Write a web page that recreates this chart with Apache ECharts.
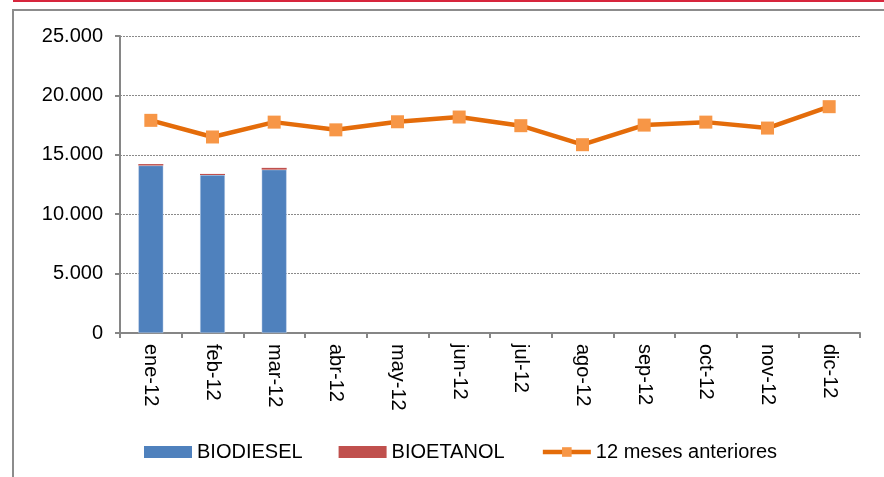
<!DOCTYPE html>
<html>
<head>
<meta charset="utf-8">
<script src="https://cdn.jsdelivr.net/npm/echarts@6/dist/echarts.min.js"></script>
<style>
  html, body { margin: 0; padding: 0; background: #fff; }
  #chart { width: 884px; height: 477px; }
</style>
</head>
<body>
<div id="chart"></div>
<script>
// Monthly sales 2012 (m3)
const months = ['ene-12','feb-12','mar-12','abr-12','may-12','jun-12','jul-12','ago-12','sep-12','oct-12','nov-12','dic-12'];
const biodiesel = [14100, 13300, 13750, null, null, null, null, null, null, null, null, null];
const bioetanol = [120, 90, 150, null, null, null, null, null, null, null, null, null];
const previous12 = [17900, 16500, 17750, 17100, 17780, 18180, 17450, 15850, 17500, 17750, 17250, 19050];
const yTicks = [0, 5000, 10000, 15000, 20000, 25000];

const fmt = v => v === 0 ? '0' : v.toLocaleString('de-DE');
const font = '"Liberation Sans", Arial, sans-serif';

const chart = echarts.init(document.getElementById('chart'), null, { renderer: 'canvas' });
chart.setOption({
  animation: false,
  backgroundColor: '#fff',
  textStyle: { fontFamily: font },
  graphic: [
    { type: 'line', shape: { x1: 13, y1: 1, x2: 884, y2: 1 }, style: { stroke: '#D7263D', lineWidth: 2 } },
    { type: 'polyline', shape: { points: [[13, 477], [13, 10], [884, 10]] }, style: { stroke: '#8C8C8C', lineWidth: 2, fill: null } }
  ],
  grid: { left: 120, right: 24, top: 36, bottom: 144, containLabel: false },
  legend: {
    top: 442, left: 144, padding: 0,
    itemWidth: 48, itemHeight: 12, itemGap: 36,
    textStyle: { fontSize: 20, color: '#000', fontFamily: font, padding: [0, 0, 0, 0] },
    data: [
      { name: 'BIODIESEL', icon: 'rect', itemStyle: { borderWidth: 0 } },
      { name: 'BIOETANOL', icon: 'rect' },
      { name: '12 meses anteriores', lineStyle: { width: 4.5, color: '#E46C0A' }, itemStyle: { color: '#F79646' } }
    ]
  },
  xAxis: {
    type: 'category',
    data: months,
    boundaryGap: true,
    axisLine: { lineStyle: { color: '#868686', width: 2 } },
    axisTick: { show: true, alignWithLabel: false, length: 5, lineStyle: { color: '#868686', width: 2 } },
    axisLabel: { rotate: -90, margin: 11, fontSize: 20, color: '#000', fontFamily: font, interval: 0 }
  },
  yAxis: {
    type: 'value',
    min: yTicks[0], max: yTicks[yTicks.length - 1], interval: 5000,
    axisLine: { show: true, lineStyle: { color: '#868686', width: 2 } },
    axisTick: { show: true, length: 5, lineStyle: { color: '#868686', width: 2 } },
    axisLabel: { formatter: fmt, fontSize: 20, color: '#000', fontFamily: font, margin: 17 },
    splitLine: { show: true, lineStyle: { color: '#8A8A8A', type: [2, 1], width: 1 } }
  },
  series: [
    {
      name: 'BIODIESEL', type: 'bar', stack: 'ventas', data: biodiesel,
      barWidth: 25,
      itemStyle: { color: '#4F81BD', borderColor: 'rgba(220,230,245,0.8)', borderWidth: 0.5 }
    },
    {
      name: 'BIOETANOL', type: 'bar', stack: 'ventas', data: bioetanol,
      barWidth: 25,
      itemStyle: { color: '#C0504D' }
    },
    {
      name: '12 meses anteriores', type: 'line', data: previous12,
      symbol: 'rect', symbolSize: 13,
      lineStyle: { color: '#E46C0A', width: 4.5 },
      itemStyle: { color: '#F79646' },
      z: 5
    }
  ]
});
</script>
</body>
</html>
